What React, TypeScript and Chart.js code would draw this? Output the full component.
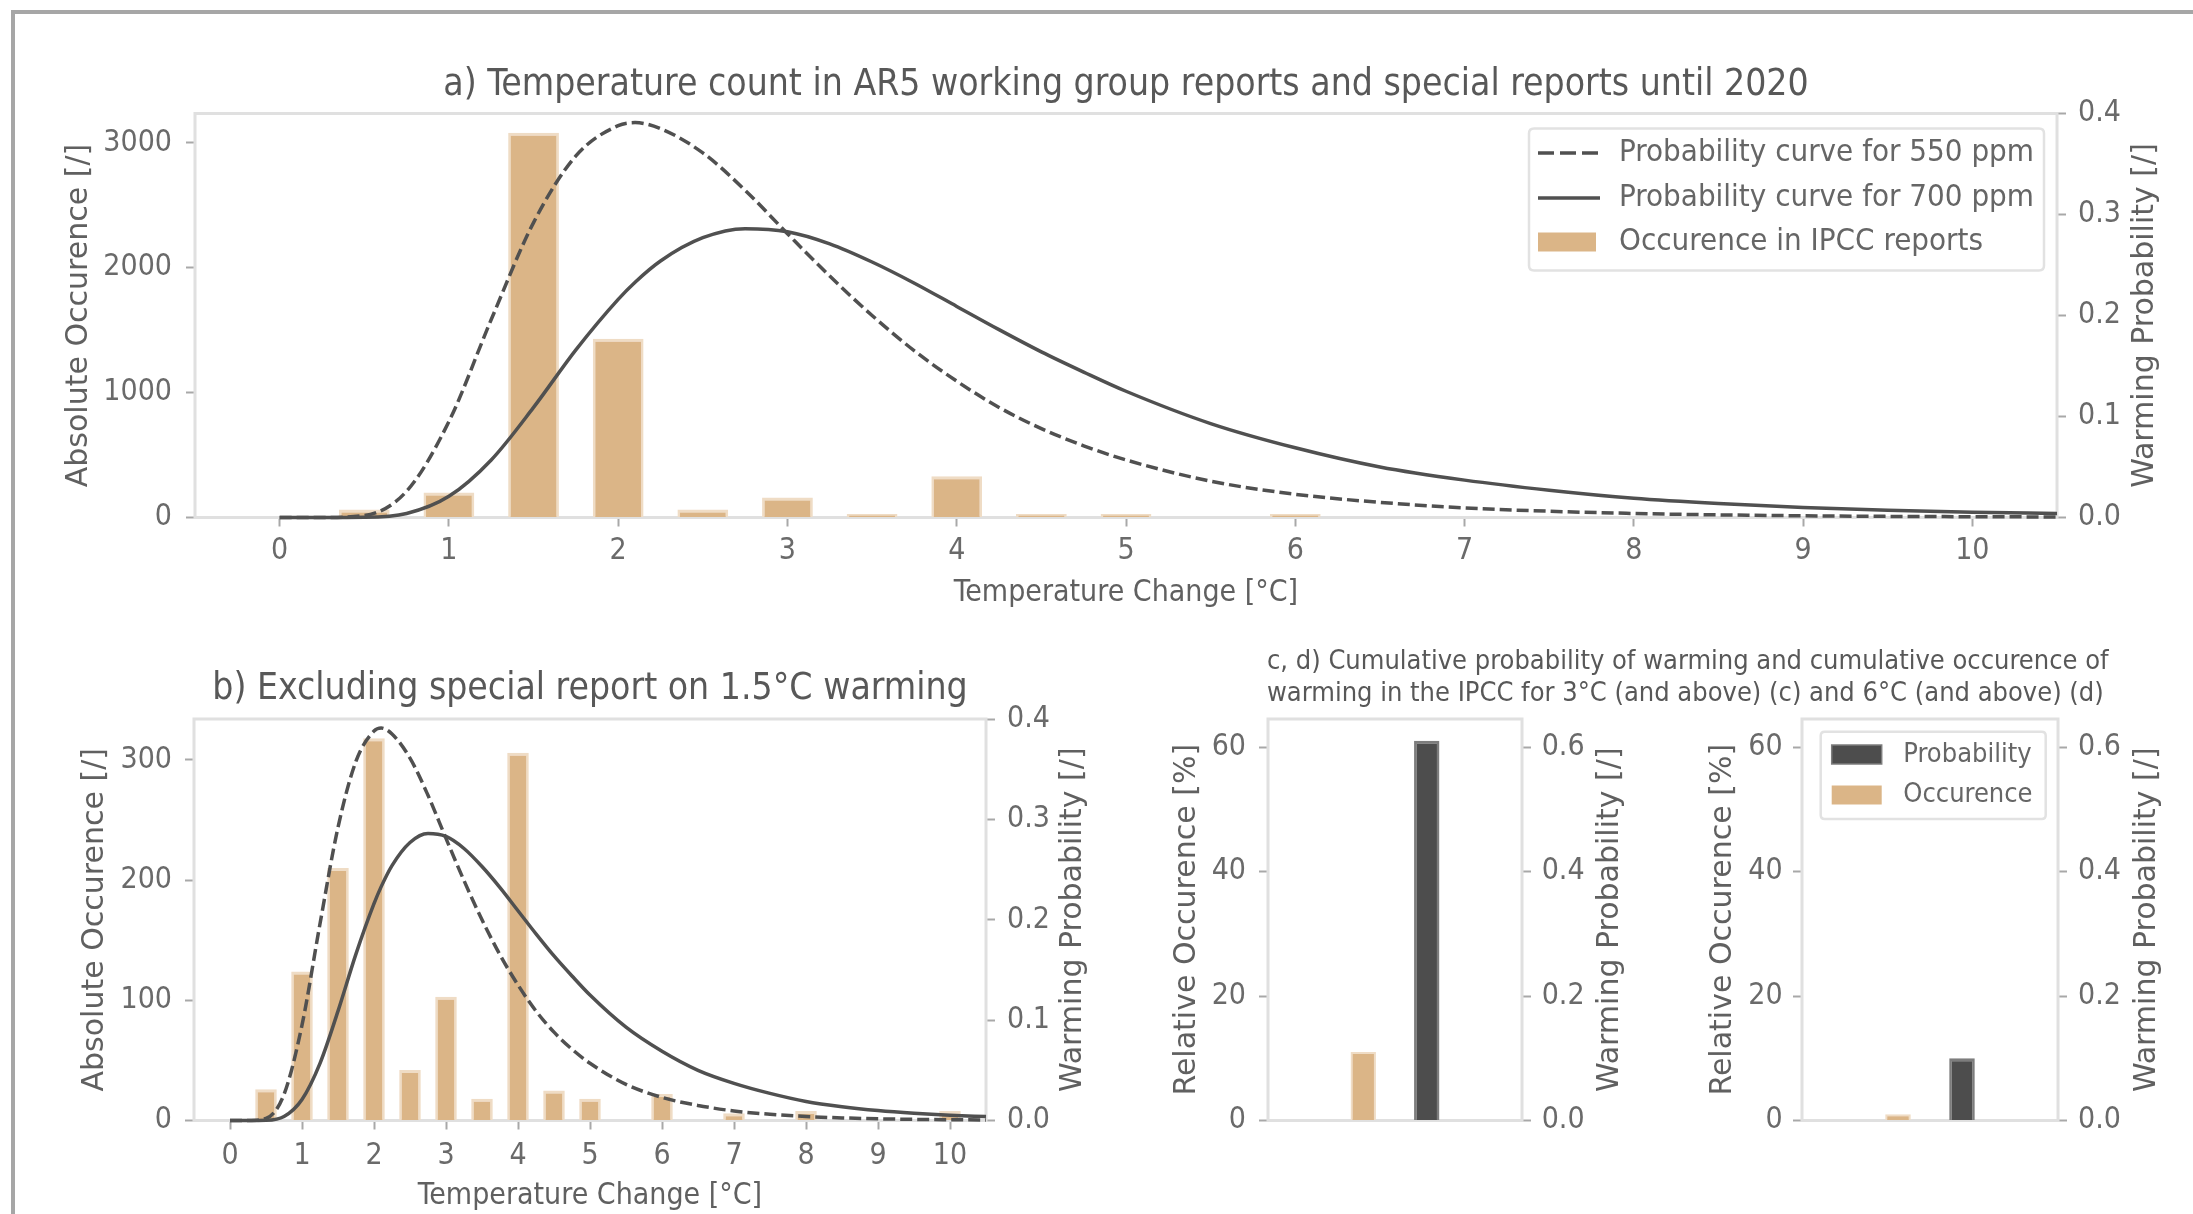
import React, { useEffect, useRef } from 'react';
import { Chart, registerables } from 'chart.js';

Chart.register(...registerables);

// ---------------- data ----------------
const BAR_TEMPS_A = [0.5, 1, 1.5, 2, 2.5, 3, 3.5, 4, 4.5, 5, 6];
const BAR_COUNTS_A = [64, 200, 3080, 1431, 64, 160, 29, 330, 29, 29, 29];

const BAR_TEMPS_B = [0.5, 1, 1.5, 2, 2.5, 3, 3.5, 4, 4.5, 5, 6, 7, 8, 10];
const BAR_COUNTS_B = [26, 124, 210, 318, 42, 103, 18, 306, 25, 18, 22, 6, 8, 8];

const CURVE_TEMPS = [0, 0.25, 0.5, 0.75, 1, 1.25, 1.5, 1.75, 2, 2.1, 2.25, 2.5, 2.75, 3, 3.25, 3.5, 3.75, 4, 4.25, 4.5, 4.75, 5, 5.5, 6, 6.5, 7, 7.5, 8, 8.5, 9, 9.5, 10, 10.5];
const PROB_550 = [0, 0, 0.002, 0.026, 0.095, 0.196, 0.292, 0.358, 0.388, 0.391, 0.385, 0.361, 0.324, 0.281, 0.239, 0.2, 0.165, 0.135, 0.109, 0.088, 0.071, 0.057, 0.036, 0.023, 0.015, 0.0095, 0.0062, 0.004, 0.0026, 0.0017, 0.0011, 0.0008, 0.0005];
const PROB_700 = [0, 0, 0.0002, 0.004, 0.021, 0.057, 0.109, 0.166, 0.216, 0.233, 0.254, 0.277, 0.286, 0.283, 0.271, 0.253, 0.232, 0.209, 0.186, 0.164, 0.144, 0.125, 0.093, 0.069, 0.05, 0.037, 0.027, 0.019, 0.0138, 0.01, 0.0073, 0.0053, 0.0039];

const X_TICKS = [0, 1, 2, 3, 4, 5, 6, 7, 8, 9, 10];
const COUNT_TICKS_A = [0, 1000, 2000, 3000];
const COUNT_TICKS_B = [0, 100, 200, 300];
const PROB_TICKS = [0, 0.1, 0.2, 0.3, 0.4];
const REL_TICKS = [0, 20, 40, 60];
const CUM_PROB_TICKS = [0, 0.2, 0.4, 0.6];

const CUM_SLOTS = ['', 'Occurence', 'Probability', ''];
const CUM_OCC_3C = 11.0;
const CUM_PROB_3C = 0.61;
const CUM_OCC_6C = 1.0;
const CUM_PROB_6C = 0.1;

const COUNT_MAX_A = 3234;
const COUNT_MAX_B = 334;
const PROB_MAX = 0.4;
const REL_MAX = 64.5;
const CUM_PROB_MAX = 0.645;

const TITLE_A = 'a) Temperature count in AR5 working group reports and special reports until 2020';
const TITLE_B = 'b) Excluding special report on 1.5°C warming';
const TITLE_CD_1 = 'c, d) Cumulative probability of warming and cumulative occurence of';
const TITLE_CD_2 = 'warming in the IPCC for 3°C (and above) (c) and 6°C (and above) (d)';
const LABEL_550 = 'Probability curve for 550 ppm';
const LABEL_700 = 'Probability curve for 700 ppm';
const LABEL_OCC = 'Occurence in IPCC reports';
const LABEL_PROB_SHORT = 'Probability';
const LABEL_OCC_SHORT = 'Occurence';
const X_TITLE = 'Temperature Change [°C]';
const ABS_TITLE = 'Absolute Occurence [/]';
const REL_TITLE = 'Relative Occurence [%]';
const PROB_TITLE = 'Warming Probability [/]';

// ---------------- styles ----------------
const COND = "'DejaVu Sans Condensed', 'DejaVu Sans', sans-serif";
const REG = "'DejaVu Sans', sans-serif";
const TAN = '#dbb587';
const TAN_EDGE = '#efdcc5';
const DARK = '#4d4d4d';
const DARK_EDGE = '#7d7d7d';
const LINE = '#505050';
const DASH = [12, 5];
const SPINE = '#e0e0e0';
const TICK_MARK = '#a8a8a8';
const TICK_COLOR = '#6a6a6a';
const LABEL_COLOR = '#606060';
const TITLE_COLOR = '#585858';

type TextSpec = { text: string; x: number | null; y: number | null; font: string; color: string; rotate?: number };

function decor(texts: TextSpec[], legend?: (ctx: CanvasRenderingContext2D) => void) {
  return {
    id: 'decor',
    beforeDatasetsDraw(chart: any) {
      const { ctx, chartArea: a } = chart;
      ctx.save();
      ctx.strokeStyle = SPINE;
      ctx.lineWidth = 3;
      ctx.strokeRect(a.left, a.top, a.right - a.left, a.bottom - a.top);
      ctx.restore();
    },
    afterDraw(chart: any) {
      const { ctx, chartArea: a } = chart;
      for (const t of texts) {
        const x = t.x ?? (a.left + a.right) / 2;
        const y = t.y ?? (a.top + a.bottom) / 2;
        ctx.save();
        ctx.translate(x, y);
        if (t.rotate) ctx.rotate(t.rotate);
        ctx.font = t.font;
        ctx.fillStyle = t.color;
        ctx.textAlign = 'center';
        ctx.textBaseline = 'middle';
        ctx.fillText(t.text, 0, 0);
        ctx.restore();
      }
      if (legend) {
        ctx.save();
        legend(ctx);
        ctx.restore();
      }
    },
  };
}

function roundBox(ctx: CanvasRenderingContext2D, x: number, y: number, w: number, h: number, r: number) {
  ctx.beginPath();
  ctx.moveTo(x + r, y);
  ctx.lineTo(x + w - r, y);
  ctx.quadraticCurveTo(x + w, y, x + w, y + r);
  ctx.lineTo(x + w, y + h - r);
  ctx.quadraticCurveTo(x + w, y + h, x + w - r, y + h);
  ctx.lineTo(x + r, y + h);
  ctx.quadraticCurveTo(x, y + h, x, y + h - r);
  ctx.lineTo(x, y + r);
  ctx.quadraticCurveTo(x, y, x + r, y);
  ctx.closePath();
  ctx.fillStyle = 'rgba(255,255,255,0.9)';
  ctx.fill();
  ctx.strokeStyle = '#e2e2e2';
  ctx.lineWidth = 2.5;
  ctx.stroke();
}

function legendA(ctx: CanvasRenderingContext2D) {
  roundBox(ctx, 1529, 128.5, 515, 142, 5);
  const ys = [153, 198, 242];
  ctx.strokeStyle = LINE;
  ctx.lineWidth = 3.5;
  ctx.setLineDash([16, 6]);
  ctx.beginPath(); ctx.moveTo(1538, ys[0]); ctx.lineTo(1600, ys[0]); ctx.stroke();
  ctx.setLineDash([]);
  ctx.beginPath(); ctx.moveTo(1538, ys[1]); ctx.lineTo(1600, ys[1]); ctx.stroke();
  ctx.fillStyle = TAN;
  ctx.fillRect(1538, ys[2] - 9.5, 58, 19);
  ctx.font = `31px ${COND}`;
  ctx.fillStyle = '#666';
  ctx.textAlign = 'left';
  ctx.textBaseline = 'middle';
  [LABEL_550, LABEL_700, LABEL_OCC].forEach((t, i) => ctx.fillText(t, 1619, ys[i]));
}

function legendD(ctx: CanvasRenderingContext2D) {
  roundBox(ctx, 160.7, 111.7, 225, 87.2, 4);
  const ys = [134.5, 175];
  ctx.fillStyle = DARK;
  ctx.fillRect(171.7, ys[0] - 9.5, 50, 19);
  ctx.strokeStyle = DARK_EDGE;
  ctx.lineWidth = 1.5;
  ctx.strokeRect(171.7, ys[0] - 9.5, 50, 19);
  ctx.fillStyle = TAN;
  ctx.fillRect(171.7, ys[1] - 9.5, 50, 19);
  ctx.font = `27px ${COND}`;
  ctx.fillStyle = '#666';
  ctx.textAlign = 'left';
  ctx.textBaseline = 'middle';
  [LABEL_PROB_SHORT, LABEL_OCC_SHORT].forEach((t, i) => ctx.fillText(t, 243.3, ys[i]));
}

const tickFont = { family: COND, size: 30 };
const grid = { display: true, drawOnChartArea: false, drawTicks: true, tickLength: 9, tickColor: TICK_MARK, tickWidth: 2, offset: false };

function axisY(o: { pos: string; max: number; ticks: number[]; width: number; pad: number; fmt: (v: any) => string; title?: string; titlePad?: number }) {
  return {
    type: 'linear',
    position: o.pos,
    min: 0,
    max: o.max,
    afterBuildTicks: (s: any) => { s.ticks = o.ticks.map((v) => ({ value: v })); },
    afterFit: (s: any) => { s.width = o.width; },
    ticks: { font: tickFont, color: TICK_COLOR, padding: o.pad, callback: o.fmt, autoSkip: false, maxRotation: 0 },
    grid,
    border: { display: false },
    title: o.title
      ? { display: true, text: o.title, font: { family: REG, size: 30 }, color: LABEL_COLOR, padding: { top: o.titlePad ?? 0, bottom: 0 } }
      : { display: false },
  };
}

function axisX(o: { height: number; pad: number; titlePad: number }) {
  return {
    type: 'linear',
    position: 'bottom',
    min: -0.5,
    max: 10.5,
    offset: false,
    afterBuildTicks: (s: any) => { s.ticks = X_TICKS.map((v) => ({ value: v })); },
    afterFit: (s: any) => { s.height = o.height; },
    ticks: { font: tickFont, color: TICK_COLOR, padding: o.pad, autoSkip: false, maxRotation: 0, callback: (v: any) => String(v) },
    grid,
    border: { display: false },
    title: { display: true, text: X_TITLE, font: { family: COND, size: 30 }, color: LABEL_COLOR, padding: { top: 0, bottom: o.titlePad } },
  };
}

const intFmt = (v: any) => String(v);
const decFmt = (v: any) => Number(v).toFixed(1);

function curveSets() {
  return [
    {
      type: 'line', label: LABEL_550, yAxisID: 'y1', order: 0,
      data: CURVE_TEMPS.map((x, i) => ({ x, y: PROB_550[i] })),
      borderColor: LINE, borderWidth: 3.5, borderDash: DASH, pointRadius: 0,
      cubicInterpolationMode: 'monotone', clip: false, fill: false,
    },
    {
      type: 'line', label: LABEL_700, yAxisID: 'y1', order: 1,
      data: CURVE_TEMPS.map((x, i) => ({ x, y: PROB_700[i] })),
      borderColor: LINE, borderWidth: 3.5, pointRadius: 0,
      cubicInterpolationMode: 'monotone', clip: false, fill: false,
    },
  ];
}

function occurrenceSet(temps: number[], counts: number[]) {
  return {
    type: 'bar', label: LABEL_OCC, yAxisID: 'y', order: 2,
    data: temps.map((x, i) => ({ x, y: counts[i] })),
    backgroundColor: TAN, borderColor: TAN_EDGE,
    borderWidth: { top: 3, left: 2.5, right: 2.5, bottom: 0 },
    borderSkipped: false,
    barPercentage: 0.6, categoryPercentage: 1,
  };
}

const baseOptions = {
  responsive: false,
  animation: false,
  events: [],
};

function buildA(): any {
  return {
    type: 'bar',
    data: { datasets: [...curveSets(), occurrenceSet(BAR_TEMPS_A, BAR_COUNTS_A)] },
    options: {
      ...baseOptions,
      layout: { padding: { top: 113.5, left: 0, right: 0, bottom: 0 } },
      scales: {
        x: axisX({ height: 102.5, pad: 7, titlePad: 9 }),
        y: axisY({ pos: 'left', max: COUNT_MAX_A, ticks: COUNT_TICKS_A, width: 195, pad: 14, fmt: intFmt, title: ABS_TITLE, titlePad: 61.7 }),
        y1: axisY({ pos: 'right', max: PROB_MAX, ticks: PROB_TICKS, width: 136, pad: 12, fmt: decFmt }),
      },
      plugins: { legend: { display: false }, tooltip: { enabled: false } },
    },
    plugins: [
      decor(
        [
          { text: TITLE_A, x: null, y: 85, font: `37px ${COND}`, color: TITLE_COLOR },
          { text: PROB_TITLE, x: 2145, y: null, font: `30px ${REG}`, color: LABEL_COLOR, rotate: -Math.PI / 2 },
        ],
        legendA,
      ),
    ],
  };
}

function buildB(): any {
  return {
    type: 'bar',
    data: { datasets: [...curveSets(), occurrenceSet(BAR_TEMPS_B, BAR_COUNTS_B)] },
    options: {
      ...baseOptions,
      layout: { padding: { top: 99, left: 0, right: 0, bottom: 0 } },
      scales: {
        x: axisX({ height: 93.5, pad: 8.5, titlePad: 0 }),
        y: axisY({ pos: 'left', max: COUNT_MAX_B, ticks: COUNT_TICKS_B, width: 194, pad: 13, fmt: intFmt, title: ABS_TITLE, titlePad: 77.5 }),
        y1: axisY({ pos: 'right', max: PROB_MAX, ticks: PROB_TICKS, width: 114, pad: 12, fmt: decFmt }),
      },
      plugins: { legend: { display: false }, tooltip: { enabled: false } },
    },
    plugins: [
      decor([
        { text: TITLE_B, x: null, y: 69, font: `37px ${COND}`, color: TITLE_COLOR },
        { text: PROB_TITLE, x: 1073, y: null, font: `30px ${REG}`, color: LABEL_COLOR, rotate: -Math.PI / 2 },
      ]),
    ],
  };
}

function buildCum(occ: number, prob: number, o: { leftW: number; leftPad: number; leftTitlePad: number; rightW: number; rightPad: number; rightTitleX: number; legend?: (ctx: CanvasRenderingContext2D) => void }): any {
  return {
    type: 'bar',
    data: {
      labels: CUM_SLOTS,
      datasets: [
        {
          label: LABEL_PROB_SHORT, yAxisID: 'y1',
          data: CUM_SLOTS.map((s) => (s === 'Probability' ? prob : null)),
          backgroundColor: DARK, borderColor: DARK_EDGE,
          borderWidth: { top: 3, left: 2.5, right: 2.5, bottom: 0 }, borderSkipped: false,
          grouped: false, barPercentage: 0.4, categoryPercentage: 1,
        },
        {
          label: LABEL_OCC_SHORT, yAxisID: 'y',
          data: CUM_SLOTS.map((s) => (s === 'Occurence' ? occ : null)),
          backgroundColor: TAN, borderColor: TAN_EDGE,
          borderWidth: { top: 2, left: 2, right: 2, bottom: 0 }, borderSkipped: false,
          grouped: false, barPercentage: 0.4, categoryPercentage: 1,
        },
      ],
    },
    options: {
      ...baseOptions,
      layout: { padding: { top: 99, left: 0, right: 0, bottom: 93.5 } },
      scales: {
        x: { type: 'category', display: false, offset: true },
        y: axisY({ pos: 'left', max: REL_MAX, ticks: REL_TICKS, width: o.leftW, pad: o.leftPad, fmt: intFmt, title: REL_TITLE, titlePad: o.leftTitlePad }),
        y1: axisY({ pos: 'right', max: CUM_PROB_MAX, ticks: CUM_PROB_TICKS, width: o.rightW, pad: o.rightPad, fmt: decFmt }),
      },
      plugins: { legend: { display: false }, tooltip: { enabled: false } },
    },
    plugins: [
      decor([{ text: PROB_TITLE, x: o.rightTitleX, y: null, font: `30px ${REG}`, color: LABEL_COLOR, rotate: -Math.PI / 2 }], o.legend),
    ],
  };
}

function Panel(props: { left: number; top: number; width: number; height: number; build: () => any }) {
  const ref = useRef<HTMLCanvasElement>(null);
  useEffect(() => {
    const chart = new Chart(ref.current as HTMLCanvasElement, props.build());
    return () => chart.destroy();
  }, []);
  const { left, top, width, height } = props;
  return (
    <canvas
      ref={ref}
      width={width}
      height={height}
      style={{ position: 'absolute', left, top, width, height, display: 'block' }}
    />
  );
}

export default function App() {
  return (
    <div style={{ position: 'fixed', left: 0, top: 0, width: 2193, height: 1214, background: '#fff', overflow: 'hidden' }}>
      <div
        style={{
          position: 'absolute', left: 11, top: 10, width: 2400, height: 1400,
          borderLeft: '4px solid #a6a6a6', borderTop: '4px solid #a6a6a6', boxSizing: 'border-box',
        }}
      />
      <Panel left={0} top={0} width={2193} height={620} build={buildA} />
      <Panel left={0} top={620} width={1100} height={594} build={buildB} />
      <Panel
        left={1150} top={620} width={510} height={594}
        build={() => buildCum(CUM_OCC_3C, CUM_PROB_3C, { leftW: 118, leftPad: 13, leftTitlePad: 19, rightW: 138, rightPad: 10.7, rightTitleX: 460 })}
      />
      <Panel
        left={1660} top={620} width={533} height={594}
        build={() => buildCum(CUM_OCC_6C, CUM_PROB_6C, { leftW: 142, leftPad: 10.3, leftTitlePad: 45, rightW: 135, rightPad: 11, rightTitleX: 487, legend: legendD })}
      />
      <div
        style={{
          position: 'absolute', left: 1267, top: 644, fontFamily: COND, fontSize: 27, lineHeight: '32px',
          color: TITLE_COLOR, whiteSpace: 'pre',
        }}
      >
        {TITLE_CD_1 + '\n' + TITLE_CD_2}
      </div>
    </div>
  );
}
